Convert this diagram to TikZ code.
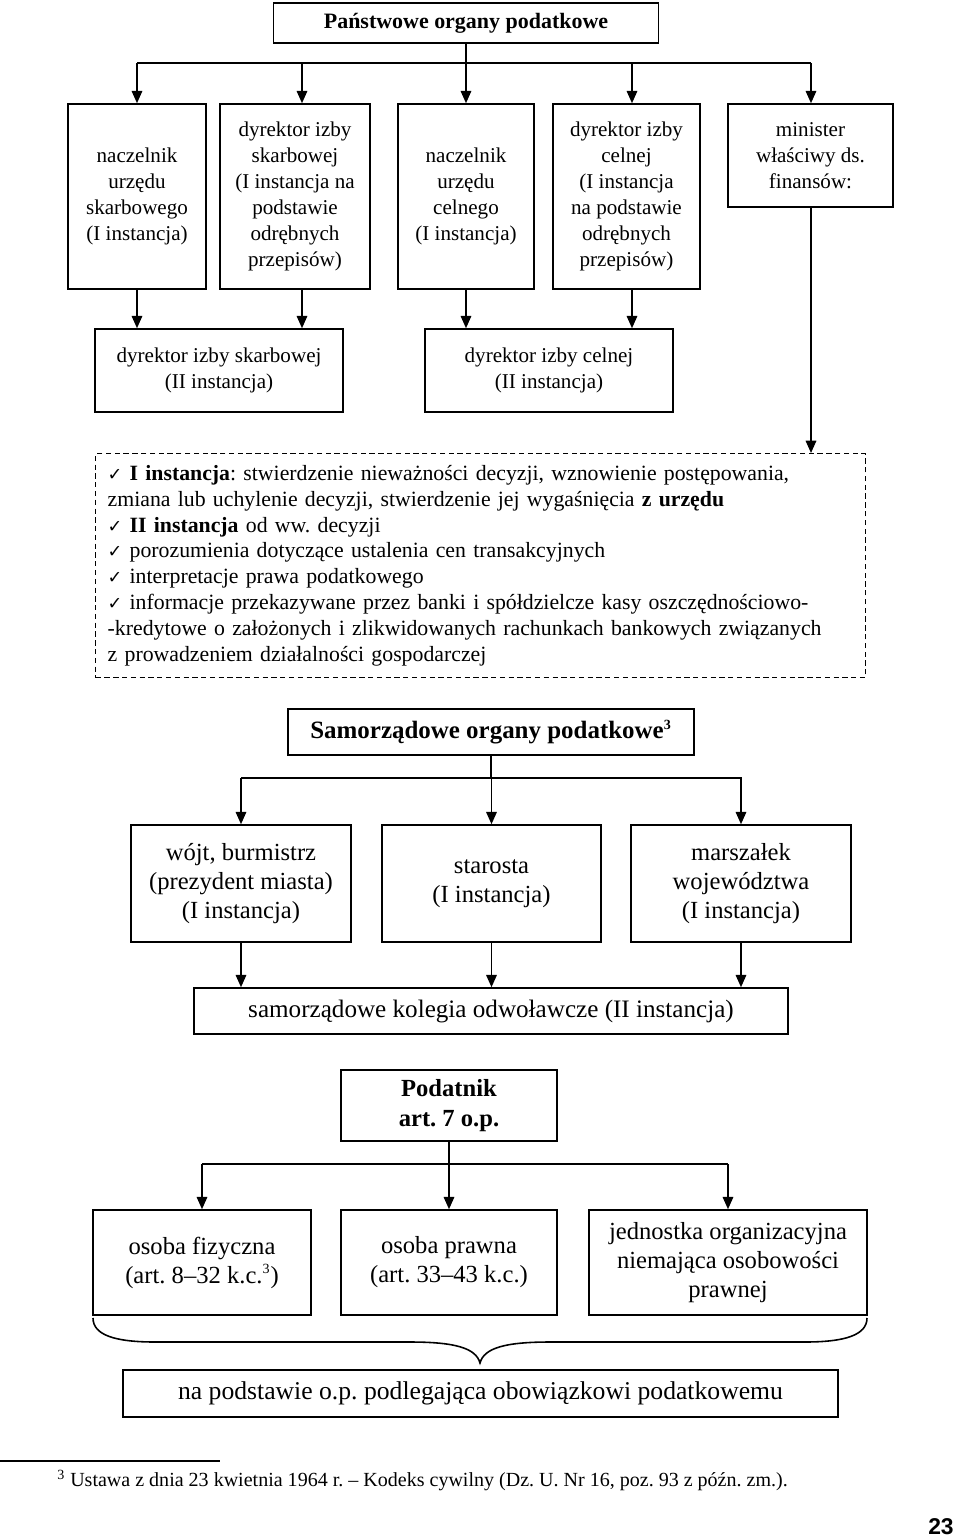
\documentclass[tikz,border=0pt]{standalone}
\usepackage{fontspec}
\setmainfont{Liberation Serif}
\newfontfamily\checkfont{DejaVu Sans}
\newfontfamily\pagefont{Liberation Sans}
\usetikzlibrary{arrows.meta, positioning, calc}
\frenchspacing
\newcommand{\chk}{{\checkfont\fontsize{10}{12}\selectfont ✓}}
\newcommand{\fnmark}{\textsuperscript{\fontsize{8}{8}\selectfont 3}}
\tikzset{
  orgbox/.style={draw, line width=0.9pt, align=center, inner sep=2pt},
  boxsize/.style 2 args={minimum width=#1*0.02cm, minimum height=#2*0.02cm},
  infobox/.style={draw, line width=0.8pt, dash pattern=on 3pt off 2pt, align=left,
    inner xsep=0.24cm, text width=14.92cm, minimum height=4.48cm},
  rowA/.style={font=\fontsize{12}{14.8}\selectfont},
  rowB/.style={font=\fontsize{14}{16.5}\selectfont},
  head/.style={font=\fontsize{#1}{17}\selectfont\bfseries},
  link/.style={line width=0.9pt},
  down/.style={line width=0.9pt, -{Triangle[length=7pt, width=6pt]}},
}

\begin{document}
\begin{tikzpicture}[x=0.02cm, y=-0.02cm]
  \useasboundingbox (0,0) rectangle (960,1539);

  % Panstwowe organy
  \node[orgbox, boxsize={385}{40}, head=12.5] (panst) at (466,23) {Państwowe organy podatkowe};

  \node[orgbox, boxsize={138}{185}, rowA] (nus) at (137,196.5) {naczelnik\\urzędu\\skarbowego\\(I instancja)};
  \node[orgbox, boxsize={150}{185}, rowA] (dis) at (295,196.5) {dyrektor izby\\skarbowej\\(I instancja na\\podstawie\\odrębnych\\przepisów)};
  \node[orgbox, boxsize={136}{185}, rowA] (nuc) at (466,196.5) {naczelnik\\urzędu\\celnego\\(I instancja)};
  \node[orgbox, boxsize={147}{185}, rowA] (dic) at (626.5,196.5) {dyrektor izby\\celnej\\(I instancja\\na podstawie\\odrębnych\\przepisów)};
  \node[orgbox, boxsize={165}{103}, rowA] (min) at (810.5,155.5) {minister\\właściwy ds.\\finansów:};

  \draw[link] (panst.south) -- (466,63);
  \draw[link] (137,63) -- (811,63);
  \foreach \x/\n in {137/nus, 302/dis, 466/nuc, 632/dic, 811/min} {
    \draw[down] (\x,63) -- (\x,0 |- \n.north);
  }

  % II instancja
  \node[orgbox, boxsize={248}{83}, rowA] (dsk) at (219,370.5) {dyrektor izby skarbowej\\(II instancja)};
  \node[orgbox, boxsize={248}{83}, rowA] (dce) at (549,370.5) {dyrektor izby celnej\\(II instancja)};

  \foreach \x/\a/\b in {137/nus/dsk, 302/dis/dsk, 466/nuc/dce, 632/dic/dce} {
    \draw[down] (\x,0 |- \a.south) -- (\x,0 |- \b.north);
  }

  % Zadania ministra
  \node[infobox, anchor=north west, font=\fontsize{12.4}{14.7}\selectfont] (info) at (95,453) {%
    \chk{} \textbf{I instancja}: stwierdzenie nieważności decyzji, wznowienie postępowania,\\
    zmiana lub uchylenie decyzji, stwierdzenie jej wygaśnięcia \textbf{z urzędu}\\
    \chk{} \textbf{II instancja} od ww. decyzji\\
    \chk{} porozumienia dotyczące ustalenia cen transakcyjnych\\
    \chk{} interpretacje prawa podatkowego\\
    \chk{} informacje przekazywane przez banki i spółdzielcze kasy oszczędnościowo-\\
    -kredytowe o założonych i zlikwidowanych rachunkach bankowych związanych\\
    z prowadzeniem działalności gospodarczej};
  \draw[down] (811,0 |- min.south) -- (811,0 |- info.north);

  % Samorzadowe organy
  \node[orgbox, boxsize={406}{46}, head=14.2] (samo) at (491,732) {Samorządowe organy podatkowe\fnmark};

  \node[orgbox, boxsize={220}{117}, rowB] (wojt) at (241,883.5) {wójt, burmistrz\\(prezydent miasta)\\(I instancja)};
  \node[orgbox, boxsize={219}{117}, rowB] (staro) at (491.5,883.5) {starosta\\(I instancja)};
  \node[orgbox, boxsize={220}{117}, rowB] (marsz) at (741,883.5) {marszałek\\województwa\\(I instancja)};
  \node[orgbox, boxsize={594}{46}, rowB, font=\fontsize{14.3}{16.5}\selectfont] (koleg) at (491,1011) {samorządowe kolegia odwoławcze (II instancja)};

  \draw[link] (samo.south) -- (491,778);
  \draw[link] (241,778) -- (742,778);
  \foreach \n in {wojt, staro, marsz} {
    \draw[down] (\n.north |- 0,778) -- (\n.north);
    \draw[down] (\n.south) -- (\n.south |- koleg.north);
  }

  % Podatnik
  \node[orgbox, boxsize={216}{71}, head=14] (podat) at (449,1105.5) {Podatnik\\art. 7 o.p.};

  \node[orgbox, boxsize={218}{105}, rowB] (fiz) at (202,1262.5) {osoba fizyczna\\(art. 8--32 k.c.\fnmark)};
  \node[orgbox, boxsize={216}{105}, rowB] (praw) at (449,1262.5) {osoba prawna\\(art. 33--43 k.c.)};
  \node[orgbox, boxsize={278}{105}, rowB] (jedn) at (728,1262.5) {jednostka organizacyjna\\niemająca osobowości\\prawnej};

  \draw[link] (podat.south) -- (449,1164);
  \draw[link] (202,1164) -- (728,1164);
  \foreach \n in {fiz, praw, jedn} {
    \draw[down] (\n.north |- 0,1164) -- (\n.north);
  }

  % klamra
  \draw[link] (93,1318) .. controls (93,1335) and (115,1342) .. (155,1342) -- (410,1342)
    .. controls (455,1342) and (476,1348) .. (480,1363)
    .. controls (484,1348) and (505,1342) .. (550,1342) -- (805,1342)
    .. controls (845,1342) and (867,1335) .. (867,1318);

  \node[orgbox, boxsize={715}{47}, font=\fontsize{14.6}{16.5}\selectfont] (podst) at (480.5,1393.5) {na podstawie o.p. podlegająca obowiązkowi podatkowemu};

  % Przypis
  \draw[line width=0.6pt] (0,1461) -- (220,1461);
  \node[anchor=west, inner sep=0pt, font=\fontsize{11.4}{14}\selectfont] (foot) at (57,1480) {\fnmark{} Ustawa z dnia 23 kwietnia 1964 r. -- Kodeks cywilny (Dz. U. Nr 16, poz. 93 z późn. zm.).};

  \node[anchor=east, inner sep=0pt, font=\pagefont\bfseries\fontsize{13}{15}\selectfont] (pnum) at (954,1527) {23};
\end{tikzpicture}
\end{document}
